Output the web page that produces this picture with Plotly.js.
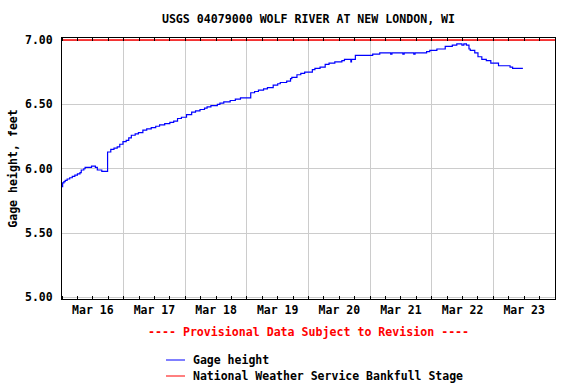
<!DOCTYPE html>
<html>
<head>
<meta charset="utf-8">
<script src="https://cdn.plot.ly/plotly-3.0.1.min.js"></script>
<style>
  html, body { margin: 0; padding: 0; background: #ffffff; }
  #chart { width: 576px; height: 384px; }
</style>
</head>
<body>
<div id="chart"></div>
<script>
// ---- Data ----
const chartTitle = "USGS 04079000 WOLF RIVER AT NEW LONDON, WI";
const yAxisTitle = "Gage height, feet";
const provisionalNote = "---- Provisional Data Subject to Revision ----";
const seriesNames = ["Gage height", "National Weather Service Bankfull Stage"];

const gageTimes = [
  "2023-03-16 00:00","2023-03-16 00:15","2023-03-16 00:45","2023-03-16 01:15","2023-03-16 02:00",
  "2023-03-16 03:00","2023-03-16 04:00","2023-03-16 05:00","2023-03-16 06:00","2023-03-16 07:00",
  "2023-03-16 07:30","2023-03-16 08:30","2023-03-16 09:00","2023-03-16 11:30","2023-03-16 13:00",
  "2023-03-16 13:45","2023-03-16 15:30","2023-03-16 17:45","2023-03-16 19:00","2023-03-16 20:15",
  "2023-03-16 21:30","2023-03-16 22:30","2023-03-16 23:45",
  "2023-03-17 01:00","2023-03-17 02:00","2023-03-17 03:00","2023-03-17 04:30","2023-03-17 05:45",
  "2023-03-17 07:30","2023-03-17 09:00","2023-03-17 10:45","2023-03-17 12:30","2023-03-17 14:00",
  "2023-03-17 16:00","2023-03-17 18:00","2023-03-17 19:30","2023-03-17 21:00","2023-03-17 22:30",
  "2023-03-18 00:30","2023-03-18 02:30","2023-03-18 04:00","2023-03-18 05:45","2023-03-18 07:30",
  "2023-03-18 08:30","2023-03-18 10:00","2023-03-18 12:30","2023-03-18 13:30","2023-03-18 15:00",
  "2023-03-18 17:30","2023-03-18 19:30","2023-03-18 21:30",
  "2023-03-19 01:30","2023-03-19 03:00","2023-03-19 04:30","2023-03-19 06:30","2023-03-19 08:00",
  "2023-03-19 10:15","2023-03-19 12:00","2023-03-19 13:00","2023-03-19 15:30","2023-03-19 17:00",
  "2023-03-19 17:30","2023-03-19 19:30","2023-03-19 21:00","2023-03-19 22:30",
  "2023-03-20 01:30","2023-03-20 02:30","2023-03-20 04:30","2023-03-20 06:30","2023-03-20 08:00",
  "2023-03-20 10:15","2023-03-20 13:00","2023-03-20 14:00","2023-03-20 16:30","2023-03-20 16:45",
  "2023-03-20 18:15",
  "2023-03-21 01:00","2023-03-21 03:45","2023-03-21 08:00","2023-03-21 08:30","2023-03-21 12:45",
  "2023-03-21 13:15","2023-03-21 17:00","2023-03-21 17:30","2023-03-21 22:00","2023-03-21 23:15",
  "2023-03-22 02:00","2023-03-22 05:15","2023-03-22 08:00","2023-03-22 09:45","2023-03-22 11:45",
  "2023-03-22 12:30","2023-03-22 13:30","2023-03-22 14:30","2023-03-22 15:00","2023-03-22 16:45",
  "2023-03-22 18:00","2023-03-22 19:30","2023-03-22 21:15","2023-03-22 23:00",
  "2023-03-23 02:00","2023-03-23 06:30","2023-03-23 07:30","2023-03-23 11:30"
];
const gageHeights = [
  5.86,5.89,5.90,5.91,5.92,
  5.93,5.94,5.95,5.96,5.97,
  5.99,6.00,6.01,6.02,6.01,
  5.99,5.98,6.13,6.15,6.16,
  6.17,6.19,6.21,
  6.22,6.24,6.26,6.27,6.28,
  6.30,6.31,6.32,6.33,6.34,
  6.35,6.36,6.37,6.39,6.40,
  6.42,6.44,6.45,6.46,6.47,
  6.48,6.49,6.50,6.51,6.52,
  6.53,6.54,6.55,
  6.59,6.60,6.61,6.62,6.63,
  6.65,6.66,6.67,6.68,6.70,
  6.71,6.73,6.74,6.75,
  6.77,6.78,6.79,6.81,6.82,
  6.83,6.84,6.85,6.83,6.85,
  6.88,
  6.89,6.90,6.89,6.90,6.89,
  6.90,6.89,6.90,6.91,6.92,
  6.93,6.95,6.96,6.97,6.96,
  6.97,6.96,6.93,6.92,6.90,
  6.87,6.85,6.84,6.82,
  6.80,6.79,6.78,6.78
];

const bankfullTimes = ["2023-03-16 00:00", "2023-03-24 00:00"];
const bankfullStage = [7.00, 7.00];

const xRange = ["2023-03-16 00:00", "2023-03-24 00:00"];
const yRange = [4.988, 7.0155];

// ---- Styling ----
const FONT = "DejaVu Sans Mono";
const fnt = (size, color) => ({ family: FONT, size: size, color: color || "#000000", weight: "bold" });

const traces = [
  {
    x: gageTimes, y: gageHeights, type: "scatter", mode: "lines",
    name: seriesNames[0], line: { color: "#0000ff", width: 1.2, shape: "hv" },
    showlegend: false, hoverinfo: "skip"
  },
  {
    x: bankfullTimes, y: bankfullStage, type: "scatter", mode: "lines",
    name: seriesNames[1], line: { color: "#ff0000", width: 1.5 },
    showlegend: false, hoverinfo: "skip"
  }
];

// plot area geometry in px (for placing the custom legend / notes)
const M = { l: 62, r: 21, t: 38, b: 85 };
const W = 576, H = 384;
const PW = W - M.l - M.r, PH = H - M.t - M.b;
const px2x = px => (px - M.l) / PW;
const py2y = py => (H - M.b - py) / PH;

const legendColors = ["#0000ff", "#ff0000"];
const legendRowsY = [360, 376];

const shapes = legendRowsY.map((py, i) => ({
  type: "line", xref: "paper", yref: "paper",
  x0: px2x(166), x1: px2x(185), y0: py2y(py), y1: py2y(py),
  line: { color: legendColors[i], width: 1 }
}));

const annotations = [
  {
    text: provisionalNote, xref: "paper", yref: "paper",
    x: 0.5, y: py2y(332), xanchor: "center", yanchor: "middle",
    showarrow: false, font: fnt(11.6, "#ff0000")
  }
].concat(seriesNames.map((nm, i) => ({
  text: nm, xref: "paper", yref: "paper",
  x: px2x(191), y: py2y(legendRowsY[i]), xanchor: "left", yanchor: "middle",
  showarrow: false, font: fnt(11.5)
})));

const layout = {
  width: W, height: H,
  margin: M,
  paper_bgcolor: "#ffffff", plot_bgcolor: "#ffffff",
  showlegend: false,
  title: {
    text: chartTitle, font: fnt(11.6),
    xref: "paper", x: 0.5, xanchor: "center",
    yref: "container", y: (H - 19) / H, yanchor: "middle"
  },
  xaxis: {
    type: "date", range: xRange,
    tick0: "2023-03-16", dtick: 86400000,
    ticklabelmode: "period", tickformat: "%b %d",
    tickfont: fnt(11.5),
    showgrid: true, gridcolor: "#cccccc", gridwidth: 1,
    showline: true, linecolor: "#000000", linewidth: 1, mirror: "ticks",
    ticks: "inside", ticklen: 3, tickcolor: "#000000", tickwidth: 1,
    minor: { dtick: 21600000, ticks: "inside", ticklen: 3, tickcolor: "#000000", tickwidth: 1, showgrid: false },
    zeroline: false, fixedrange: true
  },
  yaxis: {
    range: yRange, tick0: 5, dtick: 0.5, tickformat: ".2f",
    tickfont: fnt(11.5),
    showgrid: true, gridcolor: "#cccccc", gridwidth: 1,
    showline: true, linecolor: "#000000", linewidth: 1, mirror: true,
    ticks: "", ticklabelstandoff: 6,
    zeroline: false, fixedrange: true,
    title: { text: yAxisTitle, font: fnt(11.6), standoff: 4 }
  },
  shapes: shapes,
  annotations: annotations
};

Plotly.newPlot("chart", traces, layout, { staticPlot: true, displayModeBar: false });
</script>
</body>
</html>
